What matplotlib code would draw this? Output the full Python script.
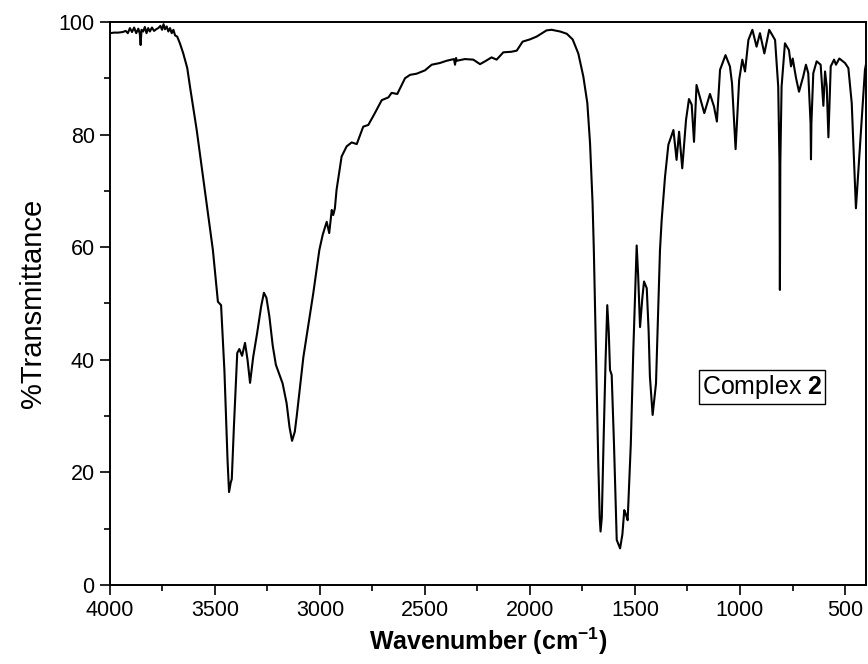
import matplotlib
matplotlib.use("Agg")
from matplotlib import pyplot as plt
from matplotlib.ticker import MultipleLocator

plt.rcParams['font.family'] = ['Liberation Sans', 'DejaVu Sans']
plt.rcParams['mathtext.fontset'] = 'custom'
plt.rcParams['mathtext.rm'] = 'Liberation Sans'
plt.rcParams['mathtext.bf'] = 'Liberation Sans:bold'
plt.rcParams['axes.unicode_minus'] = False

# ===== DANE WIDMA =====
wavenumber = [
    4000, 3980, 3960, 3940, 3925, 3915, 3905, 3895, 3885, 3875, 3865, 3858, 3854, 3850,
    3842, 3834, 3826, 3818, 3810, 3800, 3790, 3780, 3770, 3760, 3752, 3745, 3738, 3730,
    3722, 3714, 3706, 3698, 3690, 3680, 3667, 3651, 3632, 3619, 3587, 3548, 3510, 3486,
    3471, 3455, 3440, 3433, 3425, 3420, 3410, 3400, 3394, 3384, 3371, 3357, 3345, 3333,
    3318, 3299, 3280, 3267, 3255, 3241, 3225, 3210, 3178, 3159, 3145, 3133, 3120, 3111,
    3079, 3032, 3003, 2987, 2968, 2962, 2956, 2944, 2937, 2929, 2921, 2897, 2873, 2849,
    2825, 2794, 2770, 2743, 2706, 2674, 2659, 2632, 2595, 2571, 2540, 2500, 2468, 2429,
    2397, 2362, 2357, 2352, 2349, 2310, 2270, 2238, 2214, 2183, 2159, 2127, 2088, 2063,
    2035, 2000, 1968, 1921, 1897, 1857, 1825, 1797, 1770, 1746, 1727, 1714, 1702, 1696,
    1685, 1675, 1668, 1664, 1658, 1650, 1640, 1632, 1625, 1619, 1611, 1600, 1587, 1571,
    1560, 1551, 1543, 1535, 1520, 1508, 1492, 1485, 1476, 1465, 1457, 1444, 1435, 1429,
    1416, 1400, 1381, 1373, 1357, 1341, 1317, 1302, 1290, 1275, 1257, 1243, 1230, 1219,
    1207, 1187, 1170, 1143, 1124, 1110, 1095, 1069, 1048, 1038, 1021, 1004, 989, 976,
    960, 941, 921, 905, 884, 861, 833, 818, 812, 810, 808, 802, 786, 767, 757, 749, 733,
    719, 699, 686, 675, 664, 662, 660, 651, 635, 616, 603, 595, 587, 579, 568, 552, 543,
    527, 500, 484, 468, 448, 429, 405, 400,
]
transmittance = [
    98.0, 98.1, 98.1, 98.2, 98.4, 98.0, 98.9, 98.2, 99.0, 98.0, 98.8, 97.9, 95.9, 98.6,
    98.3, 99.1, 98.0, 98.9, 98.3, 99.0, 98.4, 98.7, 98.9, 99.3, 98.6, 99.6, 98.7, 99.2,
    98.3, 98.9, 98.0, 98.6, 97.6, 97.4, 96.2, 94.4, 91.8, 88.5, 80.8, 70.0, 59.5, 50.3,
    49.7, 38.0, 22.0, 16.5, 18.2, 18.8, 28.0, 36.0, 41.2, 41.9, 40.7, 43.0, 40.0, 35.9,
    40.5, 44.8, 49.5, 51.9, 51.0, 47.7, 42.5, 39.1, 35.8, 32.3, 28.0, 25.6, 27.2, 29.9,
    40.5, 51.8, 59.5, 62.2, 64.5, 63.5, 62.5, 66.6, 65.7, 66.9, 70.2, 76.1, 77.9, 78.6,
    78.3, 81.4, 81.7, 83.5, 86.1, 86.6, 87.4, 87.2, 90.0, 90.6, 90.8, 91.4, 92.4, 92.7,
    93.1, 93.4, 92.4, 93.6, 93.1, 93.4, 93.3, 92.5, 93.0, 93.7, 93.3, 94.6, 94.7, 94.9,
    96.5, 96.9, 97.4, 98.5, 98.6, 98.3, 97.9, 96.9, 94.4, 90.3, 85.6, 78.4, 67.8, 59.5,
    40.0, 22.0, 12.0, 9.5, 12.0, 25.0, 40.0, 49.7, 45.0, 38.2, 37.3, 25.0, 8.0, 6.5,
    9.0, 13.3, 12.5, 11.5, 25.0, 41.7, 60.3, 55.0, 45.8, 51.0, 53.9, 52.7, 45.0, 37.0,
    30.2, 35.8, 59.5, 64.8, 72.5, 78.2, 80.8, 75.5, 80.5, 74.0, 82.6, 86.3, 85.3, 78.7,
    88.8, 86.1, 83.8, 87.2, 85.0, 82.3, 91.5, 94.1, 92.1, 89.1, 77.4, 89.7, 93.3, 91.2,
    96.8, 98.6, 95.6, 98.0, 94.4, 98.6, 96.8, 88.5, 75.0, 52.4, 75.0, 88.5, 96.2, 95.0, 92.1, 93.5, 90.0,
    87.6, 90.3, 92.4, 90.9, 82.0, 75.6, 82.0, 90.9, 93.0, 92.4, 85.1, 91.2, 88.5, 79.5, 92.1, 93.3, 92.4,
    93.5, 92.7, 91.8, 85.6, 66.9, 77.9, 91.5, 92.5,
]

label_text = "Complex $\\mathbf{2}$"

# ===== WYKRES =====
fig = plt.figure(figsize=(8.68, 6.64), dpi=100)
ax = fig.add_axes([0.1267, 0.119, 0.871, 0.848])

ax.plot(wavenumber, transmittance, color="black", linewidth=1.5)

ax.set_xlim(4000, 400)
ax.set_ylim(0, 100)
ax.xaxis.set_major_locator(MultipleLocator(500))
ax.xaxis.set_minor_locator(MultipleLocator(250))
ax.yaxis.set_major_locator(MultipleLocator(20))
ax.yaxis.set_minor_locator(MultipleLocator(10))
ax.tick_params(which="major", direction="out", length=7, width=1.2, labelsize=15.5, pad=4)
ax.tick_params(which="minor", direction="out", length=4, width=1.2)
for s in ax.spines.values():
    s.set_linewidth(1.4)

ax.set_xlabel("Wavenumber (cm$^{\\mathbf{-1}}$)", fontsize=18, fontweight="bold", labelpad=3)
ax.set_ylabel("%Transmittance", fontsize=21, labelpad=8)

ax.text(895, 35.2, label_text, fontsize=18, ha="center", va="center",
        bbox=dict(boxstyle="square,pad=0.12", facecolor="white", edgecolor="black", linewidth=1))

fig.savefig("out.png", dpi=100)
